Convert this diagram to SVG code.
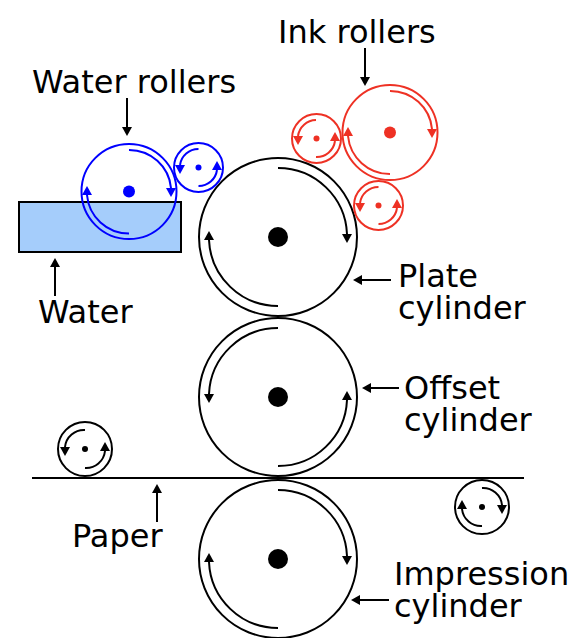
<svg xmlns="http://www.w3.org/2000/svg" width="580" height="638" viewBox="0 0 580 638">
<style>
.k{fill:none;stroke:#000;stroke-width:2}
.b{fill:none;stroke:#0000ff;stroke-width:2}
.r{fill:none;stroke:#ee3124;stroke-width:2}
.dk{fill:#000}.db{fill:#0000ff}.dr{fill:#ee3124}
.kd{marker-end:url(#kd)}.ku{marker-end:url(#ku)}
.bd{marker-end:url(#bd)}.bu{marker-end:url(#bu)}
.rd{marker-end:url(#rd)}.ru{marker-end:url(#ru)}
.l{fill:none;stroke:#000;stroke-width:2;marker-end:url(#ak)}
text{font-family:"DejaVu Sans",sans-serif;font-size:32px;fill:#000}
</style>
<defs>
<marker id="ak" markerUnits="userSpaceOnUse" markerWidth="11" markerHeight="11" refX="0" refY="5.500" orient="auto"><path d="M0 .5L9 5.500L0 10.500Z" fill="#000"/></marker>
<marker id="kd" markerUnits="userSpaceOnUse" markerWidth="11" markerHeight="11" refX="0" refY="5.500" orient="90"><path d="M0 .5L9 5.500L0 10.500Z" fill="#000"/></marker>
<marker id="ku" markerUnits="userSpaceOnUse" markerWidth="11" markerHeight="11" refX="0" refY="5.500" orient="270"><path d="M0 .5L9 5.500L0 10.500Z" fill="#000"/></marker>
<marker id="bd" markerUnits="userSpaceOnUse" markerWidth="11" markerHeight="11" refX="0" refY="5.500" orient="90"><path d="M0 .5L9 5.500L0 10.500Z" fill="#0000ff"/></marker>
<marker id="bu" markerUnits="userSpaceOnUse" markerWidth="11" markerHeight="11" refX="0" refY="5.500" orient="270"><path d="M0 .5L9 5.500L0 10.500Z" fill="#0000ff"/></marker>
<marker id="rd" markerUnits="userSpaceOnUse" markerWidth="11" markerHeight="11" refX="0" refY="5.500" orient="90"><path d="M0 .5L9 5.500L0 10.500Z" fill="#ee3124"/></marker>
<marker id="ru" markerUnits="userSpaceOnUse" markerWidth="11" markerHeight="11" refX="0" refY="5.500" orient="270"><path d="M0 .5L9 5.500L0 10.500Z" fill="#ee3124"/></marker>
</defs>
<g id="water"><rect x="19" y="202" width="162" height="50" fill="#a5cdfb" stroke="#000" stroke-width="2"/></g>
<g id="paper"><path d="M32 478H524" fill="none" stroke="#000" stroke-width="2"/></g>
<g id="plate-cylinder"><circle cx="278" cy="237" r="79" class="k"/><circle cx="278" cy="237" r="10" class="dk"/>
<path class="k kd" d="M278 168A69 69 0 0 1 347 234"/><path class="k ku" d="M278 306A69 69 0 0 1 209 240"/></g>
<g id="offset-cylinder"><circle cx="278" cy="397" r="79" class="k"/><circle cx="278" cy="397" r="10" class="dk"/>
<path class="k kd" d="M278 328A69 69 0 0 0 209 394"/><path class="k ku" d="M278 466A69 69 0 0 0 347 400"/></g>
<g id="impression-cylinder"><circle cx="278" cy="559" r="79" class="k"/><circle cx="278" cy="559" r="10" class="dk"/>
<path class="k kd" d="M278 490A69 69 0 0 1 347 556"/><path class="k ku" d="M278 628A69 69 0 0 1 209 562"/></g>
<g id="water-roller-large"><circle cx="129" cy="191.500" r="47.500" class="b"/><circle cx="129" cy="191.500" r="6" class="db"/>
<path class="b bd" d="M129 150A42 42 0 0 1 171 188"/><path class="b bu" d="M129 233.500A42 42 0 0 1 87 195"/></g>
<g id="water-roller-small"><circle cx="198.500" cy="167.500" r="24.500" class="b"/><circle cx="198.500" cy="167.500" r="3" class="db"/>
<path class="b bd" d="M198.500 149A18.500 18.500 0 0 0 180 165"/><path class="b bu" d="M198.500 186A18.500 18.500 0 0 0 217 170"/></g>
<g id="ink-roller-large"><circle cx="390" cy="132.500" r="47.500" class="r"/><circle cx="390" cy="132.500" r="6" class="dr"/>
<path class="r rd" d="M390 91A42 42 0 0 1 432 129"/><path class="r ru" d="M390 174A42 42 0 0 1 348 136"/></g>
<g id="ink-roller-left"><circle cx="316.500" cy="138.500" r="24.500" class="r"/><circle cx="316.500" cy="138.500" r="3" class="dr"/>
<path class="r rd" d="M316 120A18.500 18.500 0 0 0 298 136"/><path class="r ru" d="M316 157A18.500 18.500 0 0 0 335 141"/></g>
<g id="ink-roller-lower"><circle cx="378.500" cy="205.500" r="24.500" class="r"/><circle cx="378.500" cy="205.500" r="3" class="dr"/>
<path class="r rd" d="M378.500 187A18.500 18.500 0 0 0 360 203"/><path class="r ru" d="M378.500 224A18.500 18.500 0 0 0 397 208"/></g>
<g id="paper-roller-left"><circle cx="85" cy="449" r="27" class="k"/><circle cx="85" cy="449" r="3" class="dk"/>
<path class="k kd" d="M85 430A19 19 0 0 0 65 447"/><path class="k ku" d="M85 468A19 19 0 0 0 105 451"/></g>
<g id="paper-roller-right"><circle cx="482" cy="507" r="27" class="k"/><circle cx="482" cy="507" r="3" class="dk"/>
<path class="k kd" d="M482 488A19 19 0 0 1 502 505"/><path class="k ku" d="M482 526A19 19 0 0 1 462 509"/></g>
<g id="connectors">
<path class="l" d="M365 48V77"/><path class="l" d="M127 98V127"/><path class="l" d="M55 296V267"/><path class="l" d="M391 280H362"/><path class="l" d="M399 388H371"/><path class="l" d="M157 522V493"/><path class="l" d="M389 600H360"/>
</g>
<g id="labels">
<text x="278" y="43">Ink rollers</text>
<text x="32" y="93">Water rollers</text>
<text x="38" y="323">Water</text>
<text x="398" y="287">Plate<tspan x="398" y="319">cylinder</tspan></text>
<text x="404" y="399">Offset<tspan x="404" y="431">cylinder</tspan></text>
<text x="72" y="547">Paper</text>
<text x="394" y="585">Impression<tspan x="394" y="617">cylinder</tspan></text>
</g>
</svg>
